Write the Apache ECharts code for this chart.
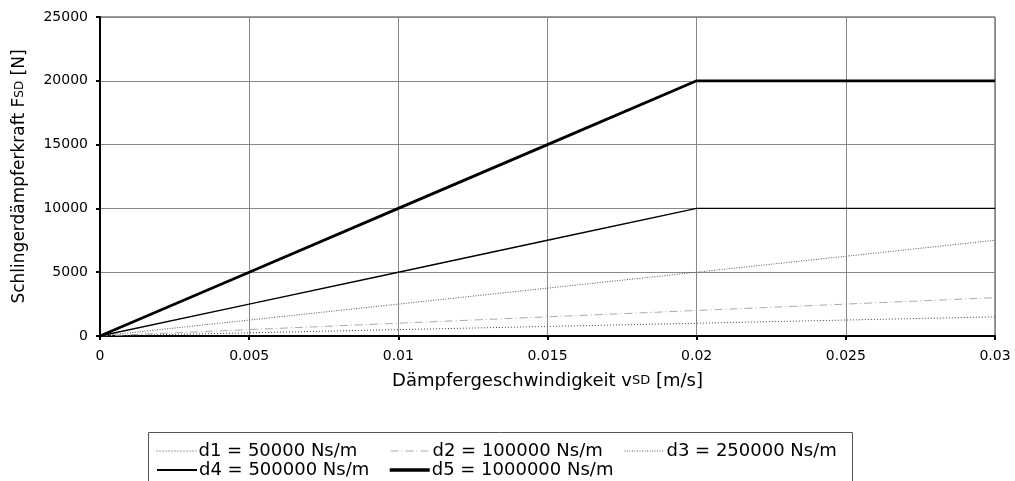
<!DOCTYPE html>
<html><head><meta charset="utf-8">
<script src="https://cdn.jsdelivr.net/npm/echarts@6/dist/echarts.min.js"></script>
<style>html,body{margin:0;padding:0;background:#fff}#c{width:1015px;height:481px}</style>
</head><body><div id="c"></div>
<script>
const velocities = [0, 0.005, 0.01, 0.015, 0.02, 0.025, 0.03];
const d1 = [0, 250, 500, 750, 1000, 1250, 1500];
const d2 = [0, 500, 1000, 1500, 2000, 2500, 3000];
const d3 = [0, 1250, 2500, 3750, 5000, 6250, 7500];
const d4 = [0, 2500, 5000, 7500, 10000, 10000, 10000];
const d5 = [0, 5000, 10000, 15000, 20000, 20000, 20000];
const seriesNames = ['d1 = 50000 Ns/m', 'd2 = 100000 Ns/m', 'd3 = 250000 Ns/m', 'd4 = 500000 Ns/m', 'd5 = 1000000 Ns/m'];
const seriesValues = [d1, d2, d3, d4, d5];

const FONT = '"DejaVu Sans", "Liberation Sans", Arial, sans-serif';
const styles = [
  {color: '#444', width: 1, type: [1, 2]},
  {color: '#aaa', width: 1, type: [8, 3, 1, 3]},
  {color: '#555', width: 1, type: [1, 1.5]},
  {color: '#000', width: 1.4, type: 'solid'},
  {color: '#000', width: 2.8, type: 'solid'}
];
const legendPos = [[156, 442], [390, 442], [624, 442], [156, 461], [388, 461]];

const chart = echarts.init(document.getElementById('c'), null, {renderer: 'canvas'});
chart.setOption({
  animation: false,
  backgroundColor: '#fff',
  textStyle: {fontFamily: FONT},
  grid: {left: 100, right: 20, top: 17, bottom: 145, show: true, borderColor: '#333', borderWidth: 1},
  graphic: [{type: 'rect', shape: {x: 148.5, y: 432.5, width: 704, height: 70}, style: {fill: 'none', stroke: '#555', lineWidth: 1}}],
  legend: seriesNames.map((n, i) => ({
    data: [n], left: legendPos[i][0], top: legendPos[i][1], padding: 0,
    itemWidth: 40, itemHeight: 10, itemGap: 0,
    itemStyle: {opacity: 0},
    lineStyle: {width: styles[i].width + (i >= 3 ? 0.6 : 0), color: styles[i].color, type: styles[i].type},
    textStyle: {fontSize: 18, color: '#000', fontFamily: FONT, padding: [0, 0, 0, -3]}
  })),
  xAxis: {
    type: 'value', min: 0, max: 0.03, interval: 0.005,
    name: 'Dämpfergeschwindigkeit v{s|SD} [m/s]', nameLocation: 'middle', nameGap: 36,
    nameTextStyle: {fontSize: 18, color: '#000', fontFamily: FONT, rich: {s: {fontSize: 13, color: '#000', fontFamily: FONT}}},
    axisLine: {show: true, lineStyle: {color: '#000', width: 2}},
    axisTick: {show: true, length: 4, lineStyle: {color: '#000', width: 2}},
    axisLabel: {fontSize: 14, color: '#000', margin: 13, fontFamily: FONT},
    splitLine: {show: true, lineStyle: {color: '#888', width: 1}}
  },
  yAxis: {
    type: 'value', min: 0, max: 25000, interval: 5000,
    name: 'Schlingerdämpferkraft F{s|SD} [N]', nameLocation: 'middle', nameGap: 72,
    nameTextStyle: {fontSize: 17, color: '#000', fontFamily: FONT, rich: {s: {fontSize: 12, color: '#000', fontFamily: FONT}}},
    axisLine: {show: true, lineStyle: {color: '#000', width: 2}},
    axisTick: {show: true, length: 4, lineStyle: {color: '#000', width: 2}},
    axisLabel: {fontSize: 14, color: '#000', margin: 12, fontFamily: FONT, formatter: v => String(v)},
    splitLine: {show: true, lineStyle: {color: '#888', width: 1}}
  },
  series: seriesNames.map((n, i) => ({
    name: n, type: 'line', symbol: 'none', z: 2 + i,
    data: velocities.map((v, k) => [v, seriesValues[i][k]]),
    lineStyle: styles[i], itemStyle: {color: styles[i].color}
  }))
});
</script></body></html>
